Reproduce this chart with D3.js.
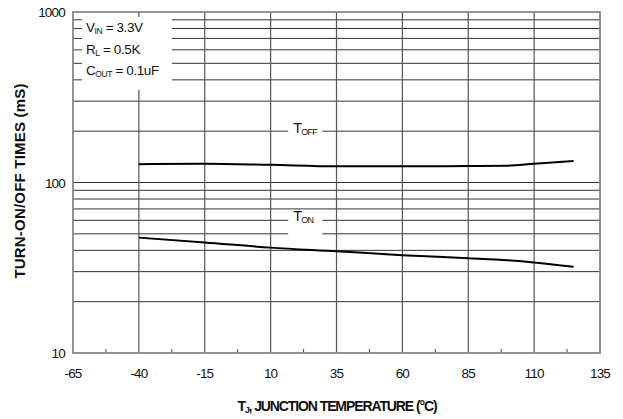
<!DOCTYPE html>
<html>
<head>
<meta charset="utf-8">
<script src="https://cdn.jsdelivr.net/npm/d3@7"></script>
<style>
  body { margin: 0; background: #fff; }
  text { font-family: "Liberation Sans", Arial, sans-serif; fill: #111; }
</style>
</head>
<body>
<script>
var temps = [-40, -15, 10, 35, 60, 85, 100, 110, 125];
var tOff  = [128, 129, 127, 124.5, 124.5, 125, 125.5, 129, 133.5];
var tOn   = [47.5, 44.5, 41.5, 39.5, 37.5, 36, 35, 34, 32];

var xTicks = [-65, -40, -15, 10, 35, 60, 85, 110, 135];
var xMinor = [-52.5, -27.5, -2.5, 22.5, 47.5, 72.5, 97.5, 122.5];
var yLabels = [10, 100, 1000];
var yGrid = [20, 30, 40, 50, 60, 70, 80, 90, 100, 200, 300, 400, 500, 600, 700, 800, 900];

var svg = d3.select("body").append("svg").attr("width", 623).attr("height", 419);

var margin = {top: 12, right: 23, bottom: 66, left: 73};
var w = 623 - margin.left - margin.right;
var h = 419 - margin.top - margin.bottom;
var g = svg.append("g").attr("transform", "translate(" + margin.left + "," + margin.top + ")");

var x = d3.scaleLinear().domain([-65, 135]).range([0, w]);
var y = d3.scaleLog().domain([10, 1000]).range([h, 0]);

// horizontal grid
g.selectAll(".hgrid")
    .data(yGrid)
    .enter()
    .append("line")
    .attr("x1", 0).attr("x2", w)
    .attr("y1", function(d) { return y(d); })
    .attr("y2", function(d) { return y(d); })
    .attr("stroke", "#333")
    .attr("stroke-width", 1);

// vertical grid
g.selectAll(".vgrid")
    .data(xTicks.slice(1, -1))
    .enter()
    .append("line")
    .attr("y1", 0).attr("y2", h)
    .attr("x1", function(d) { return x(d); })
    .attr("x2", function(d) { return x(d); })
    .attr("stroke", "#555")
    .attr("stroke-width", 1.2);

// minor ticks on bottom
g.selectAll(".minor")
    .data(xMinor)
    .enter()
    .append("line")
    .attr("y1", h).attr("y2", h - 4)
    .attr("x1", function(d) { return x(d); })
    .attr("x2", function(d) { return x(d); })
    .attr("stroke", "#444");

// frame
g.append("rect")
    .attr("width", w).attr("height", h)
    .attr("fill", "none")
    .attr("stroke", "#888")
    .attr("stroke-width", 1.8);

// legend box covering the grid
g.append("rect")
    .attr("x", 9).attr("y", 5)
    .attr("width", 90).attr("height", 73)
    .attr("fill", "#fff");

var legend = [
    {main: "V", sub: "IN", rest: " = 3.3V", yy: 20},
    {main: "R", sub: "L", rest: " = 0.5K", yy: 41.5},
    {main: "C", sub: "OUT", rest: " = 0.1uF", yy: 63}
];
legend.forEach(function(d) {
    var t = g.append("text")
        .attr("x", 13).attr("y", d.yy)
        .attr("font-size", 13.5)
        .attr("letter-spacing", "-0.4px");
    t.append("tspan").text(d.main);
    t.append("tspan").attr("font-size", 8.5).attr("dy", 2).text(d.sub);
    t.append("tspan").attr("dy", -2).text(d.rest);
});

// curves
var line = d3.line()
    .x(function(d) { return x(d[0]); })
    .y(function(d) { return y(d[1]); })
    .curve(d3.curveMonotoneX);

g.append("path")
    .datum(d3.zip(temps, tOff))
    .attr("d", line)
    .attr("fill", "none")
    .attr("stroke", "#000")
    .attr("stroke-width", 2);

g.append("path")
    .datum(d3.zip(temps, tOn))
    .attr("d", line)
    .attr("fill", "none")
    .attr("stroke", "#000")
    .attr("stroke-width", 2);

// curve labels
function curveLabel(sub, xv, yv, top, bot) {
    g.append("rect")
        .attr("x", x(xv) - 14).attr("y", y(top))
        .attr("width", 34).attr("height", y(bot) - y(top))
        .attr("fill", "#fff");
    var t = g.append("text")
        .attr("x", x(xv) - 9).attr("y", y(yv) + 2)
        .attr("font-size", 14.5)
        .attr("letter-spacing", "-0.8px");
    t.append("tspan").text("T");
    t.append("tspan").attr("font-size", 9).attr("dy", 2).text(sub);
}
curveLabel("OFF", 22, 200, 225, 180);
curveLabel("ON", 22, 61, 64, 48);

// y labels
g.selectAll(".ylab")
    .data(yLabels)
    .enter()
    .append("text")
    .attr("x", -8)
    .attr("y", function(d) { return y(d) + 5; })
    .attr("text-anchor", "end")
    .attr("font-size", 13.5)
    .attr("letter-spacing", "-0.8px")
    .text(function(d) { return d; });

// x labels
g.selectAll(".xlab")
    .data(xTicks)
    .enter()
    .append("text")
    .attr("x", function(d) { return x(d); })
    .attr("y", h + 25)
    .attr("text-anchor", "middle")
    .attr("font-size", 13.5)
    .attr("letter-spacing", "-0.8px")
    .text(function(d) { return d; });

// x title
var xt = g.append("text")
    .attr("x", 337 - margin.left)
    .attr("y", h + 58)
    .attr("text-anchor", "middle")
    .attr("font-size", 14)
    .attr("font-weight", "bold")
    .attr("letter-spacing", "-1.1px");
xt.append("tspan").text("T");
xt.append("tspan").attr("font-size", 8.5).attr("dy", 2).text("J");
xt.append("tspan").attr("dy", -2).text(", JUNCTION TEMPERATURE (°C)");

// y title
g.append("text")
    .attr("transform", "rotate(-90)")
    .attr("x", -(181 - margin.top))
    .attr("y", -48)
    .attr("text-anchor", "middle")
    .attr("font-size", 15)
    .attr("font-weight", "bold")
    .attr("letter-spacing", "0.2px")
    .text("TURN-ON/OFF TIMES (mS)");
</script>
</body>
</html>
